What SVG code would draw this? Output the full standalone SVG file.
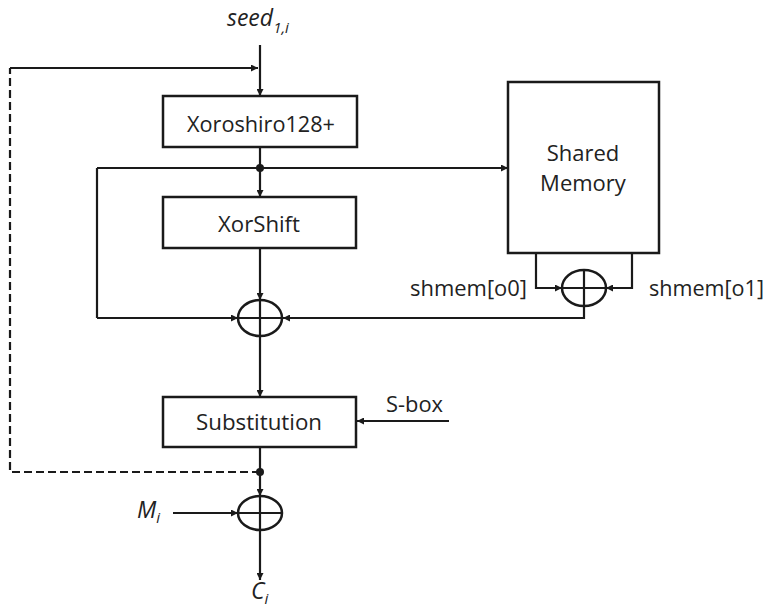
<svg xmlns="http://www.w3.org/2000/svg" width="770" height="608" viewBox="0 0 770 608">
<defs>
<marker id="ah" viewBox="0 0 10 10" refX="10" refY="5" markerWidth="9" markerHeight="7" markerUnits="userSpaceOnUse" orient="auto">
<path d="M0,0 L10,5 L0,10 z" fill="#1a1a1a"/>
</marker>
</defs>
<style>
.box{fill:#fff;stroke:#1a1a1a;stroke-width:2.5}
.xor{fill:none;stroke:#1a1a1a;stroke-width:2.5}
.ln{fill:none;stroke:#1a1a1a;stroke-width:2.2}
.arr{fill:none;stroke:#1a1a1a;stroke-width:2.2;marker-end:url(#ah)}
.dash{fill:none;stroke:#1a1a1a;stroke-width:2.2;stroke-dasharray:8,4}
.t{font-family:"Open Sans","Noto Sans","Liberation Sans",sans-serif;font-size:22px;fill:#222}
.i{font-family:"Open Sans","Noto Sans","Liberation Sans",sans-serif;font-size:23px;font-style:italic;fill:#222}
.s{font-size:15px}
</style>
<g id="connectors">
<path class="arr" d="M260,45 V96"/>
<path class="arr" d="M10,68 H258"/>
<path class="dash" d="M260,472 H10 V68"/>
<path class="arr" d="M260,147 V197"/>
<path class="arr" d="M97,168 H508"/>
<path class="ln" d="M97,168 V318"/>
<path class="arr" d="M97,318 H238"/>
<path class="arr" d="M260,248 V300"/>
<path class="arr" d="M584,306 V318 H283"/>
<path class="arr" d="M536,253 V288 H562"/>
<path class="arr" d="M632,253 V288 H606"/>
<path class="arr" d="M260,336 V397"/>
<path class="arr" d="M449,421 H357"/>
<path class="arr" d="M260,447 V496"/>
<path class="arr" d="M173,513 H238"/>
<path class="arr" d="M260,530 V580"/>
<circle cx="260" cy="168" r="4" fill="#1a1a1a"/>
<circle cx="260" cy="472" r="4" fill="#1a1a1a"/>
</g>
<g id="seed"><text class="i" x="227" y="26">seed<tspan class="s" dy="7">1,i</tspan></text></g>
<g id="xoroshiro">
<rect class="box" x="163" y="96" width="194" height="51"/>
<text class="t" x="261" y="132" text-anchor="middle" textLength="148" lengthAdjust="spacingAndGlyphs">Xoroshiro128+</text>
</g>
<g id="xorshift">
<rect class="box" x="163" y="197" width="193" height="51"/>
<text class="t" x="259" y="232" text-anchor="middle" textLength="82" lengthAdjust="spacingAndGlyphs">XorShift</text>
</g>
<g id="shared-memory">
<rect class="box" x="508" y="82" width="151" height="171"/>
<text class="t" x="583" y="161" text-anchor="middle">Shared</text>
<text class="t" x="583" y="191" text-anchor="middle">Memory</text>
</g>
<g id="xor-shmem">
<ellipse class="xor" cx="584" cy="288" rx="22" ry="18"/>
<path class="ln" d="M562,288 H606 M584,270 V306"/>
</g>
<g id="label-o0"><text class="t" x="410" y="296" textLength="117" lengthAdjust="spacingAndGlyphs">shmem[o0]</text></g>
<g id="label-o1"><text class="t" x="649" y="296" textLength="115" lengthAdjust="spacingAndGlyphs">shmem[o1]</text></g>
<g id="xor1">
<ellipse class="xor" cx="260" cy="318" rx="22" ry="18"/>
<path class="ln" d="M238,318 H282 M260,300 V336"/>
</g>
<g id="substitution">
<rect class="box" x="163" y="397" width="193" height="50"/>
<text class="t" x="259" y="430" text-anchor="middle" textLength="126" lengthAdjust="spacingAndGlyphs">Substitution</text>
</g>
<g id="sbox-label"><text class="t" x="386" y="412" textLength="57" lengthAdjust="spacingAndGlyphs">S-box</text></g>
<g id="xor2">
<ellipse class="xor" cx="260" cy="513" rx="22" ry="17"/>
<path class="ln" d="M238,513 H282 M260,496 V530"/>
</g>
<g id="mi"><text class="i" x="137" y="518">M<tspan class="s" dy="5">i</tspan></text></g>
<g id="ci"><text class="i" x="251" y="599">C<tspan class="s" dy="5">i</tspan></text></g>
</svg>
